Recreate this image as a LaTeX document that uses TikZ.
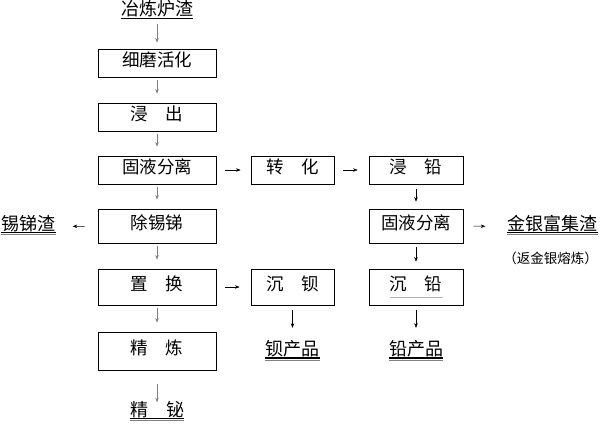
\documentclass[tikz,border=0pt]{standalone}
\usepackage{fontspec}
\newfontfamily\cjk{Noto Sans CJK SC}
\usetikzlibrary{arrows.meta}

\tikzset{
    proc/.style={draw, line width=0.8pt, minimum height=28pt, inner sep=0pt,
        text height=0.88em, text depth=0.12em, font=\cjk\fontsize{17.5}{18}\selectfont},
    wbox/.style={proc, minimum width=118pt},
    mbox/.style={proc, minimum width=83pt},
    rbox/.style={proc, minimum width=94pt},
    prod/.style={inner xsep=0pt, inner ysep=1pt, text height=0.88em, text depth=0.12em,
        font=\cjk\fontsize{18}{18}\selectfont},
    note/.style={inner sep=0pt, font=\cjk\fontsize{13.5}{14}\selectfont},
    flow/.style={-{Stealth[length=4.5pt,width=3.5pt]}, line width=0.5pt},
    uline/.style={line width=1.4pt},
}

\begin{document}
\begin{tikzpicture}[x=1pt, y=-1pt]
        \useasboundingbox (0,0) rectangle (600,427);
        % column 1
        \node[prod] (slag) at (157,12) {冶炼炉渣};
        \node[wbox] (grind) at (157,63) {细磨活化};
        \node[wbox] (leach) at (157,117) {浸　出};
        \node[wbox] (sep1) at (157,170) {固液分离};
        \node[wbox, minimum height=34pt] (desnsb) at (157,226) {除锡锑};
        \node[wbox, minimum height=36pt] (replace) at (157,287) {置　换};
        \node[wbox, minimum height=38pt] (refine) at (157,351) {精　炼};
        \node[prod] (bi) at (157,412.5) {精　铋};
        \node[prod] (snsb) at (28.5,226.5) {锡锑渣};
        % column 2
        \node[mbox] (conv) at (292.5,170) {转　化};
        \node[mbox, minimum height=36pt] (ba) at (292.5,287) {沉　钡};
        \node[prod] (baprod) at (292.5,352) {钡产品};
        % column 3
        \node[rbox] (pbleach) at (416,170) {浸　铅};
        \node[rbox, minimum height=34pt] (sep2) at (416,226) {固液分离};
        \node[rbox, minimum height=36pt] (pb) at (416,287) {沉　铅};
        \node[prod] (pbprod) at (416,352) {铅产品};
        \node[prod] (auag) at (552.5,226.5) {金银富集渣};
        \node[note] (back) at (550.5,258) {（返金银熔炼）};

        % underlines
        \draw[line width=0.6pt] (slag.south west) -- (slag.south east);
        \foreach \n in {bi,snsb,baprod,pbprod,auag}{
            \draw[uline] (\n.south west) -- (\n.south east);
            \draw[gray, line width=0.5pt] ([yshift=-1.6pt]\n.south west) -- ([yshift=-1.6pt]\n.south east);
        }
        \draw[gray!60, line width=0.4pt] (390,297) -- (443,297);  % under 沉铅

        % arrows
        \draw[flow, gray, shorten <=6pt, shorten >=6pt] (slag) -- (grind);
        \foreach \a/\b in {grind/leach,leach/sep1,sep1/desnsb,desnsb/replace,replace/refine}
            \draw[flow, gray, shorten <=3pt, shorten >=9pt] (\a) -- (\b);
        \draw[flow, gray, shorten <=14pt, shorten >=4pt] (refine) -- (bi);
        \draw[flow, shorten <=13pt, shorten >=17pt] (desnsb) -- (snsb);
        \draw[flow, shorten <=9pt, shorten >=10pt] (sep1) -- (conv);
        \draw[flow, shorten <=9pt, shorten >=11pt] (conv) -- (pbleach);
        \draw[flow, shorten <=9pt, shorten >=11pt] (replace) -- (ba);
        \draw[flow, shorten <=5pt, shorten >=7pt] (pbleach) -- (sep2);
        \draw[flow, shorten <=4pt, shorten >=7pt] (sep2) -- (pb);
        \draw[flow, shorten <=10pt, shorten >=22pt] (sep2) -- (auag);
        \draw[flow, shorten <=5pt, shorten >=18pt] (ba) -- (baprod);
        \draw[flow, shorten <=5pt, shorten >=18pt] (pb) -- (pbprod);
    \end{tikzpicture}
\end{document}
